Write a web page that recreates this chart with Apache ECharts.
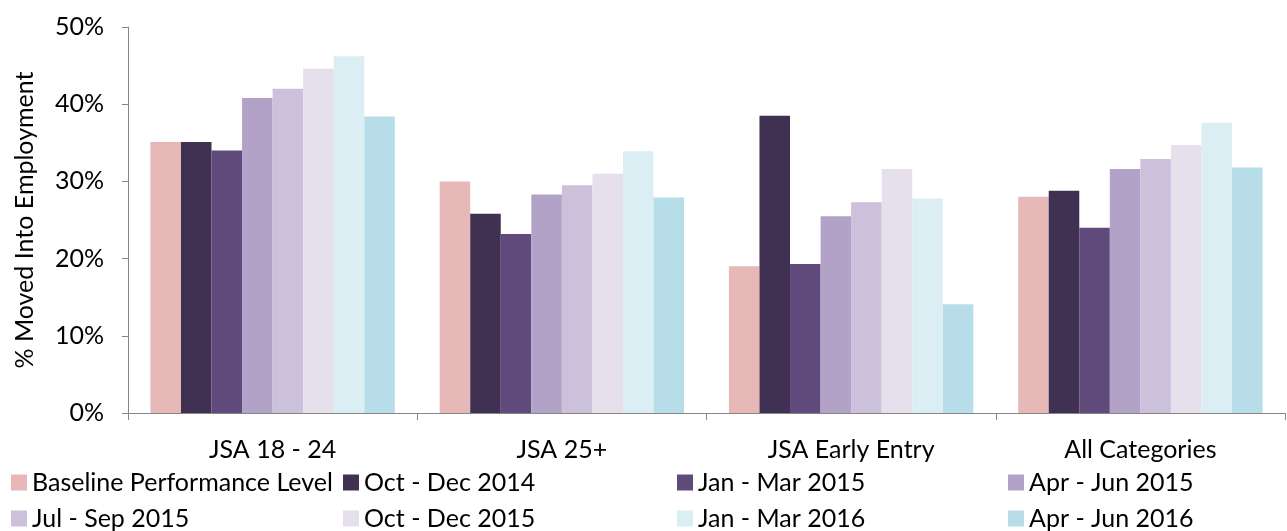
<!DOCTYPE html>
<html>
<head>
<meta charset="utf-8">
<script src="https://cdn.jsdelivr.net/npm/echarts@6/dist/echarts.min.js"></script>
<style>
  html, body { margin: 0; padding: 0; background: #fff; }
  #chart { width: 1287px; height: 531px; }
</style>
</head>
<body>
<div id="chart"></div>
<script>
// categories on the x axis
const categories = ['JSA 18 - 24', 'JSA 25+', 'JSA Early Entry', 'All Categories']

// one series per period, values in %
const seriesNames = [
  'Baseline Performance Level',
  'Oct - Dec 2014',
  'Jan - Mar 2015',
  'Apr - Jun 2015',
  'Jul - Sep 2015',
  'Oct - Dec 2015',
  'Jan - Mar 2016',
  'Apr - Jun 2016'
]
const baseline = [35.1, 30.0, 19.0, 28.0]
const octDec2014 = [35.1, 25.8, 38.5, 28.8]
const janMar2015 = [34.0, 23.2, 19.3, 24.0]
const aprJun2015 = [40.8, 28.3, 25.5, 31.6]
const julSep2015 = [42.0, 29.5, 27.3, 32.9]
const octDec2015 = [44.6, 31.0, 31.6, 34.7]
const janMar2016 = [46.2, 33.9, 27.8, 37.6]
const aprJun2016 = [38.4, 27.9, 14.1, 31.8]
const seriesValues = [baseline, octDec2014, janMar2015, aprJun2015, julSep2015, octDec2015, janMar2016, aprJun2016]

const colors = ['#E6B9B8', '#403152', '#604A7B', '#B3A2C7', '#CCC1DA', '#E5E0EC', '#DBEEF4', '#B7DEE8']

const FONT = 'Lato'
const FS = 25

// legend spots: 4 columns x 2 rows
const legendLeft = [11, 343, 677, 1008]
const legendTop = [470, 506]

const chart = echarts.init(document.getElementById('chart'))

const legends = seriesNames.map((name, i) => ({
  data: [name],
  left: legendLeft[i % 4],
  top: legendTop[Math.floor(i / 4)],
  padding: 0,
  icon: 'rect',
  itemWidth: 16,
  itemHeight: 16,
  itemGap: 6,
  selectedMode: false,
  textStyle: {
    fontFamily: FONT,
    fontSize: FS,
    color: '#000',
    lineHeight: 16,
    padding: [0, 0, 0, 0]
  }
}))

const options = {
  animation: false,
  color: colors,
  grid: {
    left: 128,
    right: 2,
    top: 27,
    bottom: 118,
    containLabel: false
  },
  legend: legends,
  xAxis: {
    type: 'category',
    data: categories,
    axisLine: { lineStyle: { color: '#868686', width: 1 } },
    axisTick: { show: true, length: 7, lineStyle: { color: '#868686' } },
    axisLabel: {
      margin: 24,
      fontFamily: FONT,
      fontSize: FS,
      color: '#000'
    }
  },
  yAxis: {
    type: 'value',
    min: 0,
    max: 50,
    interval: 10,
    name: '% Moved Into Employment',
    nameLocation: 'middle',
    nameGap: 91,
    nameTextStyle: { fontFamily: FONT, fontSize: FS, color: '#000' },
    axisLine: { show: true, lineStyle: { color: '#868686', width: 1 } },
    axisTick: { show: true, length: 6, lineStyle: { color: '#868686' } },
    splitLine: { show: false },
    axisLabel: {
      margin: 24,
      fontFamily: FONT,
      fontSize: FS,
      color: '#000',
      formatter: v => v + '%'
    }
  },
  series: seriesNames.map((name, i) => ({
    name: name,
    type: 'bar',
    data: seriesValues[i],
    barGap: '0%',
    barCategoryGap: '15.5%',
    itemStyle: { color: colors[i] }
  }))
}

chart.setOption(options)
</script>
</body>
</html>
